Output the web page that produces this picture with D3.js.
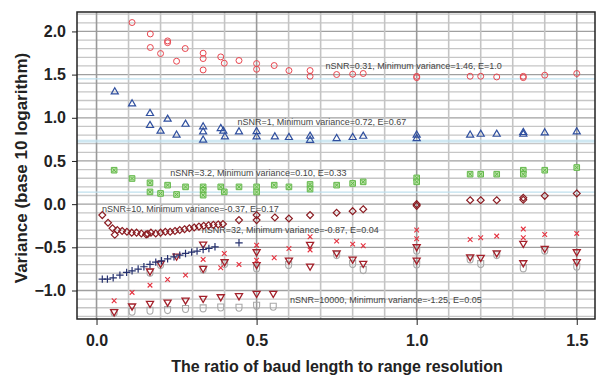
<!DOCTYPE html>
<html>
<head>
<meta charset="utf-8">
<script src="https://cdn.jsdelivr.net/npm/d3@7"></script>
<style>
  body { margin: 0; background: #fff; }
  svg { display: block; font-family: "Liberation Sans", Arial, sans-serif; }
</style>
</head>
<body>
<div id="chart"></div>
<script>
// nSNR = 0.31 (open circles)
const snr031 = [[0.111,2.103],[0.168,1.971],[0.168,1.814],[0.222,1.89],[0.222,1.87],[0.2,1.744],[0.277,1.802],[0.25,1.655],[0.333,1.748],[0.333,1.686],[0.333,1.554],[0.388,1.705],[0.399,1.632],[0.445,1.663],[0.5,1.628],[0.5,1.562],[0.555,1.605],[0.601,1.547],[0.667,1.547],[0.667,1.481],[0.75,1.501],[0.8,1.505],[0.833,1.513],[1.0,1.48],[1.0,1.465],[1.167,1.481],[1.2,1.481],[1.25,1.473],[1.333,1.48],[1.333,1.465],[1.4,1.493],[1.5,1.513]];
// nSNR = 1 (triangles)
const snr1 = [[0.057,1.30],[0.111,1.161],[0.167,1.05],[0.167,0.911],[0.222,0.984],[0.2,0.845],[0.278,0.926],[0.25,0.799],[0.333,0.895],[0.333,0.837],[0.333,0.741],[0.388,0.876],[0.396,0.845],[0.401,0.779],[0.445,0.837],[0.5,0.84],[0.5,0.779],[0.557,0.779],[0.601,0.772],[0.667,0.787],[0.667,0.74],[0.75,0.76],[0.8,0.772],[0.833,0.787],[1.0,0.80],[1.0,0.76],[1.167,0.799],[1.2,0.81],[1.25,0.81],[1.333,0.83],[1.333,0.81],[1.4,0.825],[1.5,0.837]];
// nSNR = 3.2 (squares with cross)
const snr32a = [[0.055,0.393],[0.111,0.297],[0.167,0.247],[0.167,0.142],[0.222,0.22],[0.2,0.124],[0.278,0.2],[0.25,0.112],[0.333,0.2],[0.333,0.16],[0.333,0.104],[0.388,0.2],[0.399,0.142],[0.445,0.2],[0.5,0.2],[0.5,0.14],[0.555,0.22],[0.601,0.2],[0.667,0.228],[0.667,0.174],[0.75,0.22],[0.8,0.24],[0.833,0.258],[1.0,0.304],[1.0,0.258],[1.167,0.347],[1.2,0.347],[1.25,0.347],[1.333,0.393],[1.333,0.347],[1.4,0.393],[1.5,0.424]];
// nSNR = 10 (diamonds)
const snr10 = [[0.018,-0.127],[0.036,-0.216],[0.05,-0.28],[0.057,-0.355],[0.065,-0.30],[0.08,-0.31],[0.095,-0.32],[0.11,-0.33],[0.125,-0.33],[0.14,-0.34],[0.155,-0.35],[0.16,-0.345],[0.17,-0.33],[0.185,-0.34],[0.2,-0.33],[0.215,-0.32],[0.23,-0.32],[0.245,-0.31],[0.26,-0.3],[0.275,-0.29],[0.29,-0.28],[0.305,-0.27],[0.32,-0.26],[0.335,-0.25],[0.35,-0.245],[0.365,-0.24],[0.38,-0.235],[0.395,-0.23],[0.445,-0.185],[0.5,-0.185],[0.5,-0.127],[0.557,-0.154],[0.601,-0.166],[0.667,-0.127],[0.75,-0.1],[0.8,-0.081],[0.833,-0.058],[1.0,0.0],[1.0,-0.02],[1.167,0.046],[1.2,0.046],[1.25,0.046],[1.333,0.073],[1.333,0.05],[1.4,0.096],[1.5,0.124]];
// nSNR = 32 (x marks)
const snr32 = [[0.055,-1.119],[0.111,-1.022],[0.167,-0.938],[0.222,-0.872],[0.278,-0.822],[0.333,-0.64],[0.388,-0.737],[0.399,-0.571],[0.445,-0.698],[0.5,-0.475],[0.5,-0.65],[0.555,-0.62],[0.601,-0.513],[0.667,-0.378],[0.667,-0.53],[0.75,-0.428],[0.8,-0.463],[0.833,-0.482],[1.0,-0.3],[1.0,-0.4],[1.167,-0.409],[1.2,-0.39],[1.25,-0.37],[1.333,-0.289],[1.333,-0.39],[1.4,-0.351],[1.5,-0.339]];
// plus marks
const snr100 = [[0.018,-0.868],[0.034,-0.868],[0.052,-0.853],[0.073,-0.822],[0.094,-0.79],[0.111,-0.772],[0.13,-0.752],[0.148,-0.725],[0.167,-0.698],[0.185,-0.671],[0.203,-0.656],[0.222,-0.633],[0.242,-0.61],[0.26,-0.59],[0.278,-0.571],[0.297,-0.556],[0.314,-0.544],[0.333,-0.525],[0.351,-0.513],[0.37,-0.494],[0.445,-0.448]];
// inverted triangles
const snr1000 = [[0.055,-1.246],[0.111,-1.18],[0.167,-1.15],[0.222,-1.134],[0.278,-1.111],[0.333,-1.092],[0.388,-1.073],[0.445,-1.061],[0.5,-1.034],[0.552,-1.034],[0.167,-0.775],[0.2,-0.686],[0.25,-0.602],[0.333,-0.744],[0.333,-0.463],[0.4,-0.667],[0.5,-0.552],[0.5,-0.7],[0.601,-0.648],[0.667,-0.467],[0.667,-0.718],[0.75,-0.564],[0.8,-0.637],[0.833,-0.686],[1.0,-0.494],[1.0,-0.648],[1.167,-0.61],[1.2,-0.617],[1.25,-0.564],[1.333,-0.679],[1.333,-0.455],[1.4,-0.513],[1.5,-0.552],[1.5,-0.667]];
// nSNR = 10000 ("D" marks)
const snr10000 = [[0.055,-1.258],[0.111,-1.246],[0.167,-1.235],[0.222,-1.227],[0.278,-1.215],[0.333,-1.207],[0.388,-1.196],[0.445,-1.2],[0.5,-1.177],[0.552,-1.188],[0.167,-0.795],[0.2,-0.706],[0.333,-0.756],[0.4,-0.694],[0.5,-0.744],[0.6,-0.706],[0.75,-0.59],[0.8,-0.694],[0.833,-0.764],[1.0,-0.54],[1.0,-0.7],[1.167,-0.64],[1.2,-0.694],[1.25,-0.59],[1.333,-0.744],[1.4,-0.54],[1.5,-0.725]];

const refLines = [1.45, 0.74, 0.72, 0.14];
const xTicks = [0, 0.5, 1.0, 1.5];
const yTicks = [-1.0, -0.5, 0.0, 0.5, 1.0, 1.5, 2.0];

const labels = [
    { text: "nSNR=0.31, Minimum variance=1.46, E=1.0", x: 0.715, y: 1.57 },
    { text: "nSNR=1, Minimum variance=0.72, E=0.67", x: 0.44, y: 0.92 },
    { text: "nSNR=3.2, Minimum variance=0.10, E=0.33", x: 0.23, y: 0.325 },
    { text: "nSNR=10, Minimum variance=-0.37, E=0.17", x: 0.017, y: -0.09 },
    { text: "nSNR=32, Minimum variance=-0.87, E=0.04", x: 0.329, y: -0.335 },
    { text: "nSNR=10000, Minimum variance=-1.25, E=0.05", x: 0.604, y: -1.145 }
];

const width = 597, height = 379;
const plotLeft = 77, plotRight = 595, plotTop = 12, plotBottom = 319;

const svg = d3.select("#chart").append("svg")
    .attr("width", width)
    .attr("height", height);

const x = d3.scaleLinear().domain([-0.061, 1.557]).range([plotLeft, plotRight]);
const y = d3.scaleLinear().domain([-1.33, 2.225]).range([plotBottom, plotTop]);

const isMajor = (d) => Math.abs(d * 2 - Math.round(d * 2)) < 1e-6;

// grid
const grid = svg.append("g");
grid.selectAll(".hminor")
    .data(d3.range(-13, 23).map((d) => d / 10))
    .join("line")
    .attr("x1", plotLeft).attr("x2", plotRight)
    .attr("y1", (d) => y(d)).attr("y2", (d) => y(d))
    .attr("stroke", (d) => isMajor(d) ? "#a0a0a0" : "#c6c6c6")
    .attr("stroke-width", 1.3);

grid.selectAll(".vminor")
    .data(d3.range(0, 16).map((d) => d / 10))
    .join("line")
    .attr("y1", plotTop).attr("y2", plotBottom)
    .attr("x1", (d) => x(d)).attr("x2", (d) => x(d))
    .attr("stroke", (d) => isMajor(d) ? "#999" : "#c4c4c4")
    .attr("stroke-width", 1.6);

grid.selectAll(".ref")
    .data(refLines)
    .join("line")
    .attr("x1", plotLeft).attr("x2", plotRight)
    .attr("y1", (d) => y(d)).attr("y2", (d) => y(d))
    .attr("stroke", "#bfe0ee")
    .attr("stroke-width", 1.2);

// annotations
svg.selectAll(".lab")
    .data(labels)
    .join("text")
    .attr("x", (d) => x(d.x))
    .attr("y", (d) => y(d.y))
    .attr("font-size", "9px")
    .attr("fill", "#444")
    .text((d) => d.text);

// markers
function plot(data, type, size, color, opts = {}) {
    const sym = d3.symbol().type(type || d3.symbolCircle).size(size);
    svg.append("g").selectAll("path")
        .data(data)
        .join("path")
        .attr("transform", (d) => `translate(${x(d[0])},${y(d[1])})${opts.rotate ? " rotate(180)" : ""}`)
        .attr("d", opts.path ? opts.path : sym)
        .attr("fill", opts.fill || "none")
        .attr("stroke", color)
        .attr("stroke-width", opts.sw || 1);
}

const dShape = "M-3,-3.5H3V0A3,3.5 0 0 1 -3,0Z";

plot(snr10000, null, 0, "#a8a8a8", { path: dShape, sw: 1.1 });
plot(snr1000, d3.symbolTriangle2, 36, "#a3202a", { rotate: true, sw: 1.3 });
plot(snr100, d3.symbolPlus, 20, "#25306e", { sw: 1.2 });
plot(snr32, d3.symbolTimes, 16, "#e5303e", { sw: 1.1 });
plot(snr10, d3.symbolDiamond2, 30, "#8b1c22", { sw: 1.2 });
plot(snr32a, d3.symbolSquare2, 40, "#62b84a", { fill: "#b6e0a2" });
plot(snr32a, d3.symbolTimes, 10, "#62b84a", {});
plot(snr1, d3.symbolTriangle2, 36, "#2f4f9f", { sw: 1.2 });
plot(snr031, d3.symbolCircle, 28, "#e8464f", {});

// frame and axes
svg.append("rect")
    .attr("x", plotLeft).attr("y", plotTop)
    .attr("width", plotRight - plotLeft).attr("height", plotBottom - plotTop)
    .attr("fill", "none")
    .attr("stroke", "#222")
    .attr("stroke-width", 1.5);

const yAxis = d3.axisLeft(y).tickValues(yTicks).tickFormat(d3.format(".1f")).tickSize(5).tickPadding(6);
const xAxis = d3.axisBottom(x).tickValues(xTicks).tickFormat(d3.format(".1f")).tickSize(6).tickPadding(10);

svg.append("g")
    .attr("transform", `translate(${plotLeft},0)`)
    .call(yAxis)
    .call((g) => g.select(".domain").remove());

svg.append("g")
    .attr("transform", `translate(0,${plotBottom})`)
    .call(xAxis)
    .call((g) => g.select(".domain").remove());

svg.selectAll(".tick text")
    .attr("font-size", "16px")
    .attr("font-weight", "bold")
    .attr("fill", "#222")
    .attr("font-family", "'Liberation Sans', Arial, sans-serif");
svg.selectAll(".tick line").attr("stroke", "#222");

svg.append("text")
    .attr("x", (plotLeft + plotRight) / 2 + 1)
    .attr("y", 372)
    .attr("text-anchor", "middle")
    .attr("font-size", "16px")
    .attr("font-weight", "bold")
    .attr("fill", "#222")
    .text("The ratio of baud length to range resolution");

svg.append("text")
    .attr("transform", "rotate(-90)")
    .attr("x", -168)
    .attr("y", 27)
    .attr("text-anchor", "middle")
    .attr("font-size", "17px")
    .attr("font-weight", "bold")
    .attr("fill", "#222")
    .text("Variance (base 10 logarithm)");
</script>
</body>
</html>
